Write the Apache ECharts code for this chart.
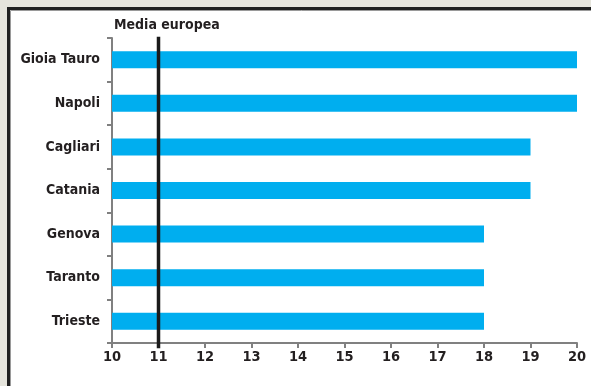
<!DOCTYPE html>
<html>
<head>
<meta charset="utf-8">
<script src="https://cdn.jsdelivr.net/npm/echarts@6/dist/echarts.min.js"></script>
<style>
html,body{margin:0;padding:0;background:#e5e4dc;}
#c{width:591px;height:386px;}
</style>
</head>
<body>
<div id="c"></div>
<script>
const categories = ['Gioia Tauro','Napoli','Cagliari','Catania','Genova','Taranto','Trieste'];
const values = [20, 20, 19, 19, 18, 18, 18];
const mediaEuropea = 11;
const mediaLabel = 'Media europea';
const xMin = 10, xMax = 20, xStep = 1;

const FONT = '"Liberation Sans Narrow", "DejaVu Sans Condensed", Arial, sans-serif';
const chart = echarts.init(document.getElementById('c'), null, {renderer:'canvas'});
chart.setOption({
  animation: false,
  backgroundColor: '#e5e4dc',
  graphic: [
    {type:'rect', z:-10, shape:{x:8.5, y:8.5, width:620, height:420}, style:{fill:'#ffffff', stroke:'#1f1f1f', lineWidth:3}},
    {type:'rect', z:-9, shape:{x:10.5, y:10.5, width:620, height:420}, style:{fill:null, stroke:'#9a9a9a', lineWidth:1}}
  ],
  title: {
    text: mediaLabel, left: 109, top: 13,
    textStyle: {fontFamily: FONT, fontWeight: 'bold', fontSize: 14, color: '#231f20'}
  },
  grid: {left: 112, right: 14, top: 38, bottom: 43, containLabel: false},
  xAxis: {
    type: 'value', min: xMin, max: xMax, interval: xStep,
    splitLine: {show: false},
    axisLine: {show: true, lineStyle: {color: '#808080', width: 2}},
    axisTick: {show: true, length: 5, lineStyle: {color: '#808080', width: 2}},
    axisLabel: {margin: 7, fontFamily: FONT, fontWeight: 'bold', fontSize: 14.5, color: '#231f20'}
  },
  yAxis: [{
    type: 'category', data: categories, inverse: true,
    axisLine: {show: true, lineStyle: {color: '#808080', width: 2}},
    axisTick: {show: true, length: 5, lineStyle: {color: '#808080', width: 2}},
    axisLabel: {margin: 12, fontFamily: FONT, fontWeight: 'bold', fontSize: 14, color: '#231f20'}
  }, {
    type: 'value', min: 0, max: 1, show: false
  }],
  series: [{
    type: 'bar', data: values, barWidth: '39%', yAxisIndex: 0,
    itemStyle: {color: '#00aeef'}
  }, {
    type: 'line', xAxisIndex: 0, yAxisIndex: 1, clip: false, symbol: 'none', z: 5,
    data: [[mediaEuropea, -0.017], [mediaEuropea, 1.004]],
    lineStyle: {color: '#1a1a1a', width: 3.5}
  }]
});
</script>
</body>
</html>
